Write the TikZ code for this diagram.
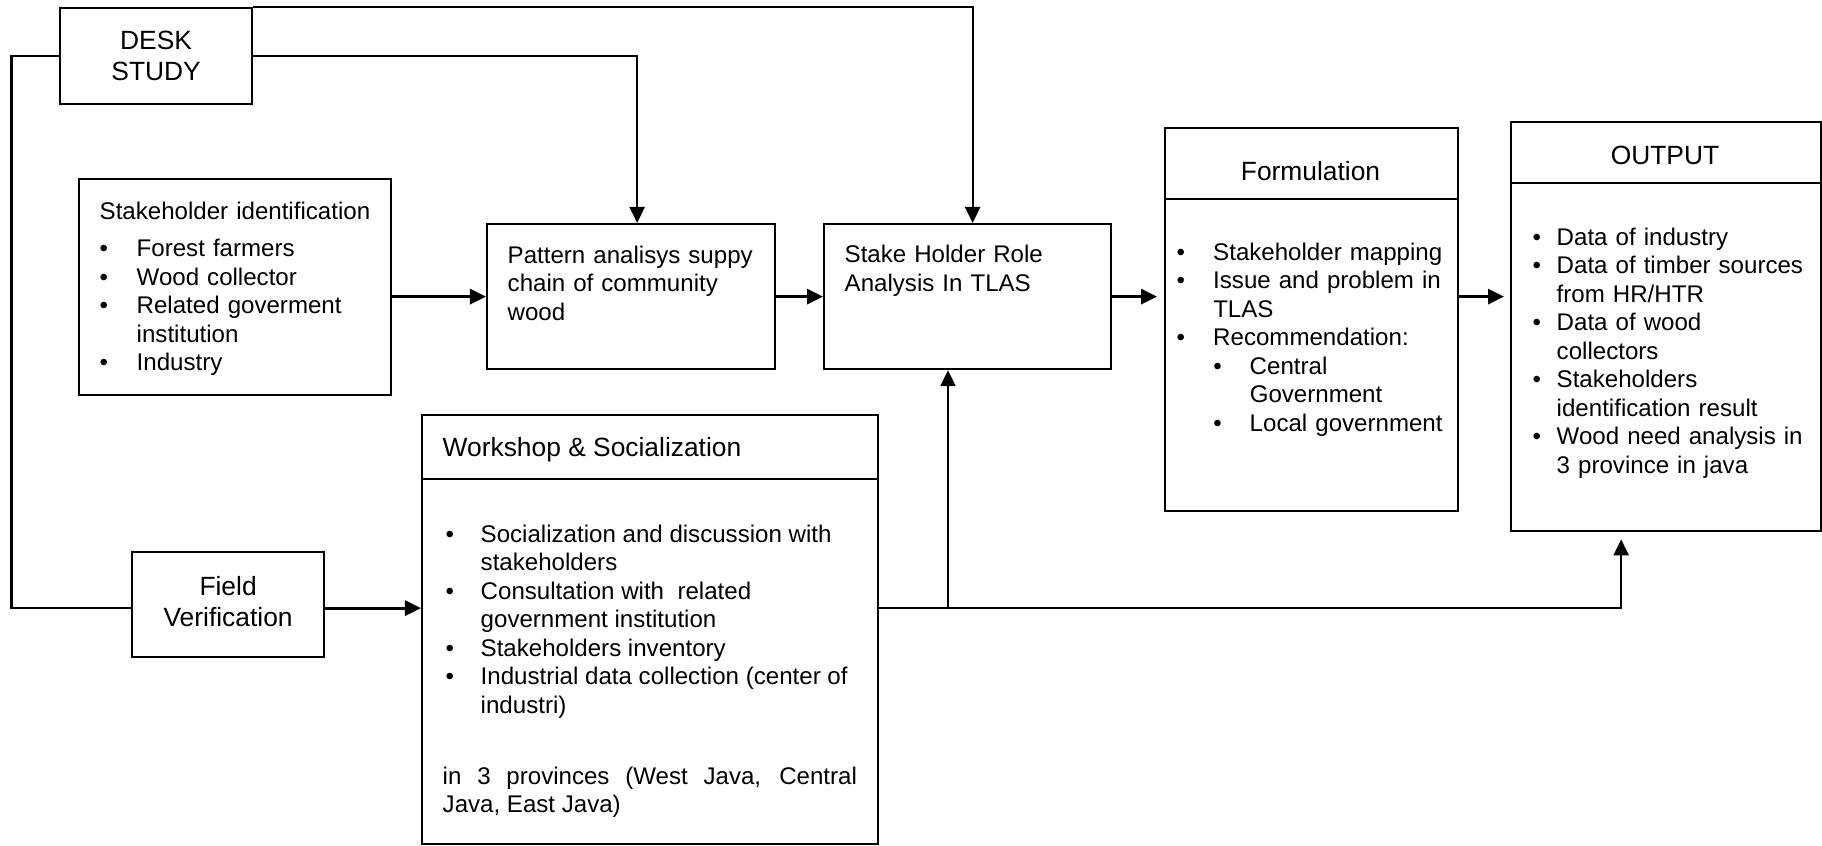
\documentclass[tikz,border=0pt]{standalone}
\usepackage{fontspec}
\setmainfont{Liberation Sans}
\usepackage{tikz}
\usetikzlibrary{arrows.meta, positioning, calc}
\newcommand{\bodyfont}{\fontsize{6.85}{8.1}\selectfont}
\newcommand{\headfont}{\fontsize{7.5}{8.8}\selectfont}
\newlength{\bulind}
\newlength{\bulpad}
\newcommand{\firstbul}[1]{\hangindent=\bulind\hangafter=1\noindent\makebox[\bulind][l]{\hspace{\bulpad}\textbullet}#1}
\newcommand{\bul}[1]{\par\firstbul{#1}}
\newcommand{\subbul}[1]{\par\hangindent=2\bulind\hangafter=1\noindent\hspace{\bulind}\makebox[\bulind][l]{\textbullet}#1}
\tikzstyle{box} = [rectangle, draw=black, line width=0.6pt, anchor=north west, inner sep=0pt]
\tikzstyle{detail} = [anchor=base west, inner sep=0pt, font=\bodyfont]
\tikzstyle{title} = [anchor=base, inner sep=0pt, font=\headfont]
\tikzstyle{link} = [line width=0.6pt]
\tikzstyle{arrow} = [line width=0.85pt, -{Triangle[length=0.16cm, width=0.15cm]}]
\tikzstyle{thinarrow} = [line width=0.6pt, -{Triangle[length=0.16cm, width=0.15cm]}]

\begin{document}
\begin{tikzpicture}[x=0.01cm, y=-0.01cm]
\useasboundingbox (0,0) rectangle (1822,846);
% boxes
\node (desk) [box, minimum width=1.92cm, minimum height=0.96cm, align=center, font=\headfont] at (59,7) {DESK\\STUDY};
\node (stakeid) [box, minimum width=3.12cm, minimum height=2.16cm] at (78,178) {};
\node (pattern) [box, minimum width=2.88cm, minimum height=1.45cm] at (486,223) {};
\node (stakehold) [box, minimum width=2.87cm, minimum height=1.45cm] at (823,223) {};
\node (form) [box, minimum width=2.93cm, minimum height=3.83cm] at (1164,127) {};
\node (output) [box, minimum width=3.10cm, minimum height=4.09cm] at (1510,121) {};
\node (work) [box, minimum width=4.56cm, minimum height=4.29cm] at (421,414) {};
\node (field) [box, minimum width=1.92cm, minimum height=1.05cm, font=\headfont] at (131,551) {\raisebox{0.03cm}{\begin{tabular}{@{}c@{}}Field\\Verification\end{tabular}}};
\draw [link] ([yshift=-0.72cm]form.north west) -- ([yshift=-0.72cm]form.north east);
\draw [link] ([yshift=-0.62cm]output.north west) -- ([yshift=-0.62cm]output.north east);
\draw [link] ([yshift=-0.65cm]work.north west) -- ([yshift=-0.65cm]work.north east);
% texts
\node (stakeidtxt) [detail, text width=2.85cm] at (99,220) {\setlength{\bulind}{0.37cm}\setlength{\bulpad}{0cm}%
Stakeholder identification\par\vspace{0.085cm}%
\bul{Forest farmers}\bul{Wood collector}\bul{Related goverment\newline institution}\bul{Industry}\par};
\node (patterntxt) [detail, text width=2.6cm] at (507,263.5) {Pattern analisys suppy\newline chain of community\newline wood};
\node (stakeholdtxt) [detail, text width=2.55cm] at (844,263) {Stake Holder Role\newline Analysis In TLAS};
\node (formtitle) [title] at (1310.5,180.5) {Formulation};
\node (formtxt) [detail, text width=2.8cm] at (1176,260.5) {\setlength{\bulind}{0.365cm}\setlength{\bulpad}{0cm}%
\firstbul{Stakeholder mapping}\bul{Issue and problem in\newline TLAS}\bul{Recommendation:}%
\subbul{Central\newline Government}\subbul{Local government}\par};
\node (outtitle) [title] at (1665,164.5) {OUTPUT};
\node (outtxt) [detail, text width=2.85cm] at (1532,245.5) {\setlength{\bulind}{0.24cm}\setlength{\bulpad}{0cm}%
\firstbul{Data of industry}\bul{Data of timber sources\newline from HR/HTR}\bul{Data of wood\newline collectors}%
\bul{Stakeholders\newline identification result}\bul{Wood need analysis in\newline 3 province in java}\par};
\node (worktitle) [title, anchor=base west] at (442,456.5) {Workshop \& Socialization};
\node (worktxt) [detail, text width=4.14cm, align=justify] at (442,542.5) {\setlength{\bulind}{0.38cm}\setlength{\bulpad}{0.03cm}%
\firstbul{Socialization and discussion with\newline stakeholders}\bul{Consultation with\ \ related\newline government institution}%
\bul{Stakeholders inventory}\bul{Industrial data collection (center of\newline industri)}%
\par\vspace{0.425cm}\noindent in 3 provinces (West Java, Central\linebreak Java, East Java)\par};
% connectors
\coordinate (fieldin) at ([yshift=-0.035cm]field.west);
\coordinate (fieldout) at ([yshift=-0.035cm]field.east);
\coordinate (branch) at (948,607);
\draw [thinarrow] (desk.north east) -| ([xshift=0.05cm]stakehold.north);
\draw [thinarrow] (desk.east) -| ([xshift=0.06cm]pattern.north);
\draw [link] (desk.west) -- ++(-47.5,0) |- (fieldin);
\draw [arrow] (pattern.west -| stakeid.east) -- (pattern.west);
\draw [arrow] (pattern.east) -- (stakehold.west);
\draw [arrow, shorten >=0.07cm] (stakehold.east) -- (stakehold.east -| form.west);
\draw [arrow, shorten >=0.06cm] (stakehold.east -| form.east) -- (stakehold.east -| output.west);
\draw [arrow] (fieldout) -- (fieldout -| work.west);
\draw [thinarrow, shorten >=0.07cm] (fieldout -| work.east) -| ([xshift=-0.45cm]output.south);
\draw [thinarrow] (branch) -- (branch |- stakehold.south);
\end{tikzpicture}
\end{document}
